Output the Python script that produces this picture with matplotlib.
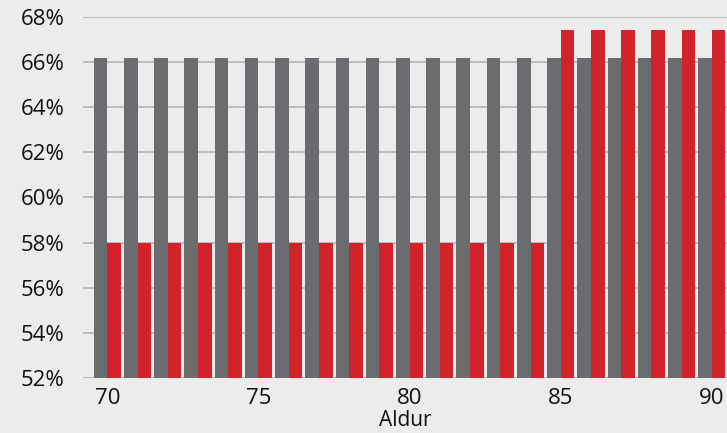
import matplotlib
matplotlib.use('Agg')
import numpy as np
import matplotlib.pyplot as plt
from matplotlib.ticker import FuncFormatter

# ages and the two rates (percent)
ages = np.arange(70, 91)
gray_vals = [66.2] * 21
red_vals = [58.0] * 15 + [67.4] * 6

bg = '#ececec'
gray_col = '#6b6c70'
red_col = '#d2232a'

plt.rcParams['font.family'] = ['Open Sans', 'DejaVu Sans']

fig = plt.figure(figsize=(7.27, 4.33), dpi=100, facecolor=bg)
ax = fig.add_axes([0.114, 0.127, 0.886, 0.834])
ax.set_facecolor(bg)

w = 0.45
ax.bar(ages - w / 2, gray_vals, width=w, color=gray_col, zorder=3)
ax.bar(ages + w / 2, red_vals, width=w, color=red_col, zorder=3)

ax.set_ylim(52, 68)
ax.set_xlim(69.19, 90.5)
ax.set_yticks(np.arange(52, 69, 2))
ax.yaxis.set_major_formatter(FuncFormatter(lambda v, p: '{:.0f}%'.format(v)))
ax.set_xticks([70, 75, 80, 85, 90])

ax.grid(axis='y', color='#b8b8b8', linewidth=1.3, zorder=0)
for s in ax.spines.values():
    s.set_visible(False)
ax.tick_params(axis='both', length=0, labelsize=16, colors='#111111')
ax.tick_params(axis='y', pad=13)
ax.tick_params(axis='x', pad=7)
ax.set_xlabel('Aldur', fontsize=15, color='#111111', labelpad=1)

fig.savefig('out.png', dpi=100, facecolor=bg)
